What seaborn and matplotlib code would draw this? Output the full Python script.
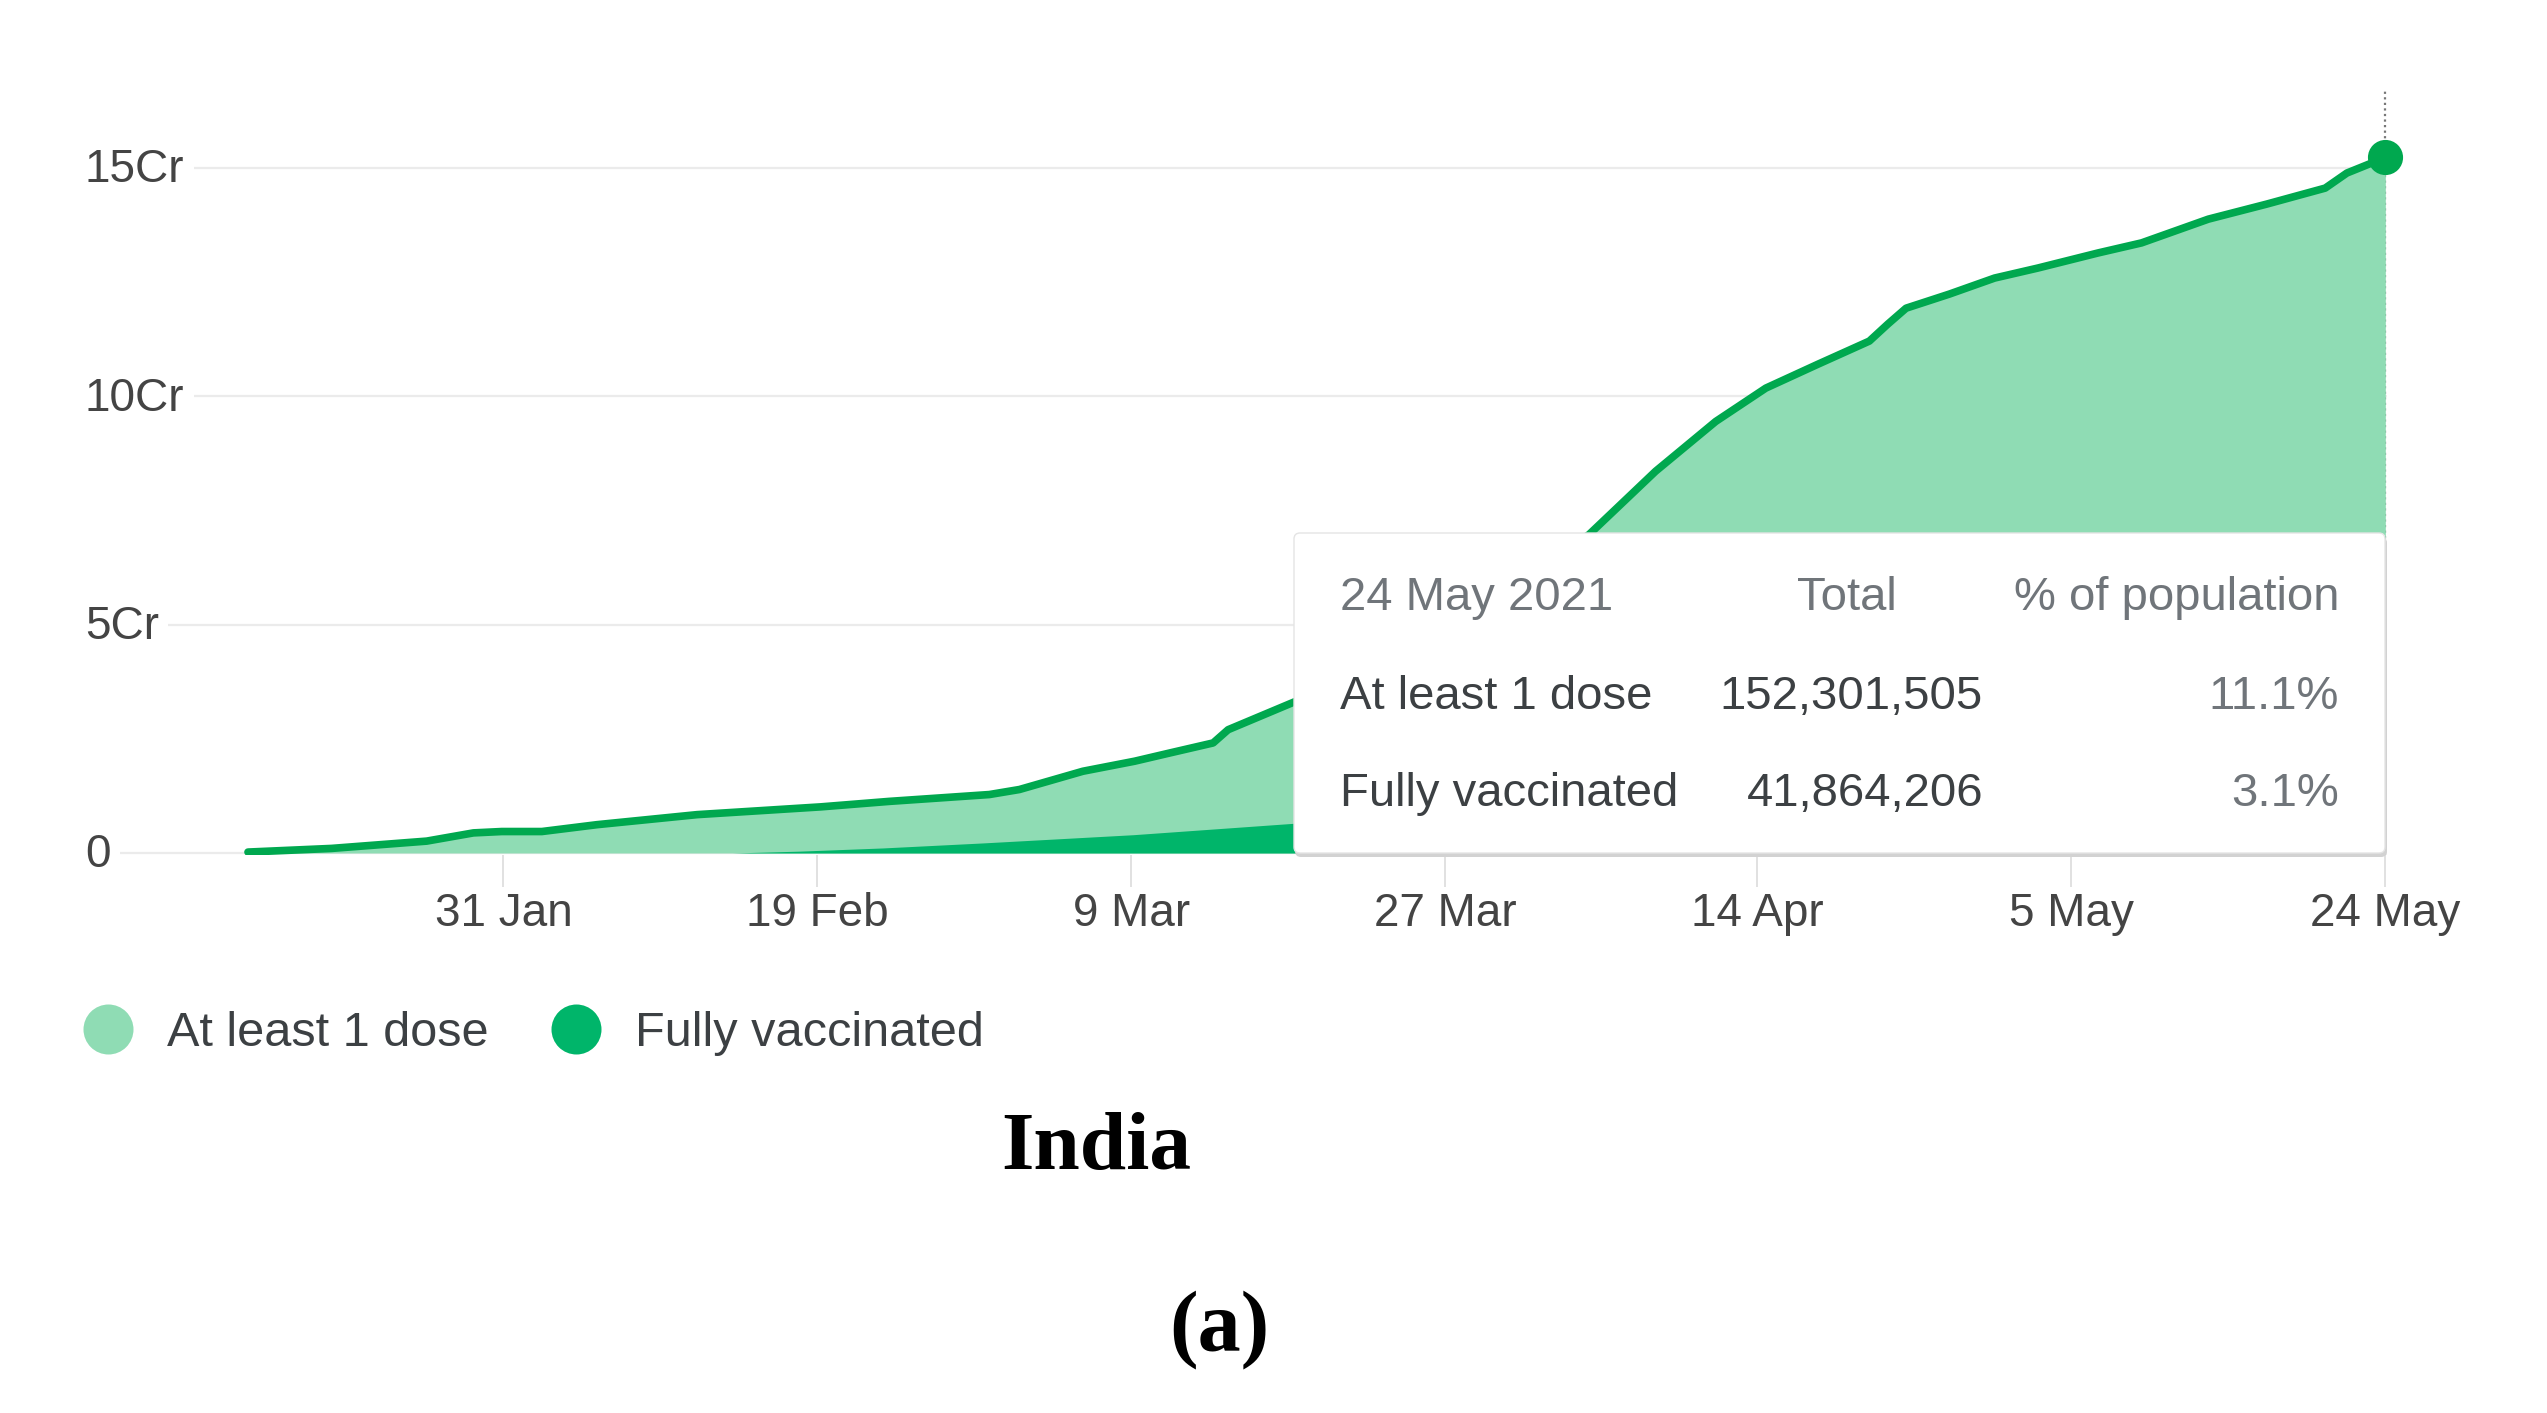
import matplotlib
matplotlib.use("Agg")
import matplotlib.pyplot as plt
from matplotlib.lines import Line2D
from matplotlib.patches import FancyBboxPatch
import seaborn as sns

# days counted from 16 Jan 2021, values in crore (1 Cr = 10 million)
dose1_days = [0, 5, 10.7, 13.5, 15.2, 17.6, 20.9, 26.9, 34.3, 38.4, 44.4, 46.2, 50, 53.1,
              55.2, 57.8, 58.7, 63, 66, 70, 74, 77, 80.3, 82.2, 84.3, 87.9, 90.9, 94,
              97.1, 98.2, 99.3, 101.9, 104.6, 107.2, 110.8, 113.4, 117.4, 120.9, 124.4,
              125.7, 128]
dose1_cr = [0.02, 0.1, 0.26, 0.44, 0.47, 0.47, 0.62, 0.84, 1.01, 1.13, 1.28, 1.39, 1.79,
            2.01, 2.19, 2.41, 2.7, 3.36, 3.85, 4.55, 5.4, 6.2, 6.97, 7.63, 8.36, 9.45,
            10.18, 10.7, 11.21, 11.58, 11.93, 12.24, 12.59, 12.81, 13.14, 13.36, 13.88,
            14.21, 14.56, 14.89, 15.23]

full_days = [29, 33, 38, 44, 53, 63, 70, 80, 90, 100, 110, 120, 128]
full_cr = [0.0, 0.04, 0.11, 0.22, 0.40, 0.66, 0.85, 1.05, 1.5, 2.3, 3.1, 3.75, 4.19]

tick_days = [15.3, 34.1, 52.9, 71.7, 90.4, 109.2, 128]
tick_labels = ["31 Jan", "19 Feb", "9 Mar", "27 Mar", "14 Apr", "5 May", "24 May"]
y_ticks = [0, 5, 10, 15]
y_labels = ["0", "5Cr", "10Cr", "15Cr"]

series_names = ["At least 1 dose", "Fully vaccinated"]
series_colors = ["#8fdcb4", "#00b56a"]
line_color = "#00a84f"

tip_header = ["24 May 2021", "Total", "% of population"]
tip_totals = ["152,301,505", "41,864,206"]
tip_pct = ["11.1%", "3.1%"]

W, H = 2547, 1413

sns.set_style("white")
plt.rcParams['font.family'] = ['Liberation Sans', 'DejaVu Sans']

fig = plt.figure(figsize=(W / 100, H / 100), dpi=100)
ax = fig.add_axes([85 / W, 1 - 855 / H, (2387 - 85) / W, (855 - 89) / H])

ax.fill_between(dose1_days, 0, dose1_cr, color=series_colors[0], lw=0, zorder=1)
ax.fill_between(full_days, 0, full_cr, color=series_colors[1], lw=0, zorder=2)
sns.lineplot(x=dose1_days, y=dose1_cr, color=line_color, lw=5.5, ax=ax, zorder=3,
             solid_capstyle='round', solid_joinstyle='round')
ax.axvline(dose1_days[-1], color='#777777', lw=1.6, ls=(0, (1, 1.5)), zorder=0)
ax.scatter([dose1_days[-1]], [dose1_cr[-1]], s=640, color=line_color, lw=0, zorder=4,
           clip_on=False)

ax.set_xlim(-9.76, 128.1)
ax.set_ylim(-0.044, 16.73)
for s in ax.spines.values():
    s.set_visible(False)

ax.set_axisbelow(True)
ax.set_yticks(y_ticks)
ax.set_yticklabels([])
ax.yaxis.grid(True, color='#ebebeb', lw=1.6)
ax.xaxis.grid(False)
ax.tick_params(axis='y', length=0)
for v, lab in zip(y_ticks, y_labels):
    ax.text(0, v - 0.05, lab, transform=ax.get_yaxis_transform(), ha='left', va='center',
            fontsize=33, color='#444444', zorder=5,
            bbox=dict(boxstyle='square,pad=0.2', fc='white', ec='none'))

ax.set_xticks(tick_days)
ax.set_xticklabels(tick_labels)
ax.tick_params(axis='x', length=23, width=1.2, color='#dcdcdc', labelsize=33,
               labelcolor='#444444', pad=4, direction='out', bottom=True)
ax.set_xlabel('')
ax.set_ylabel('')

# tooltip box, drawn in pixel coordinates on an overlay
ov = fig.add_axes([0, 0, 1, 1], zorder=5)
ov.set_xlim(0, W)
ov.set_ylim(H, 0)
ov.axis('off')
ov.add_patch(FancyBboxPatch((1295, 537), 1092, 320, boxstyle='round,pad=0,rounding_size=6',
                            fc='#d2d2d2', ec='none'))
ov.add_patch(FancyBboxPatch((1294, 533), 1091, 320, boxstyle='round,pad=0,rounding_size=6',
                            fc='white', ec='#e4e4e4', lw=1))
tip_size = 34
ov.text(1340, 598, tip_header[0], ha='left', va='center', fontsize=tip_size, color='#70757a')
ov.text(1897, 598, tip_header[1], ha='right', va='center', fontsize=tip_size, color='#70757a')
ov.text(2339, 598, tip_header[2], ha='right', va='center', fontsize=tip_size, color='#70757a')
for i, yy in enumerate([697, 794]):
    ov.text(1340, yy, series_names[i], ha='left', va='center', fontsize=tip_size, color='#3c4043')
    ov.text(1983, yy, tip_totals[i], ha='right', va='center', fontsize=tip_size, color='#3c4043')
    ov.text(2339, yy, tip_pct[i], ha='right', va='center', fontsize=tip_size, color='#70757a')

handles = [Line2D([], [], marker='o', ls='', markersize=36, markerfacecolor=c,
                  markeredgewidth=0) for c in series_colors]
fig.legend(handles, series_names, loc='center left', bbox_to_anchor=(83.7 / W, 1 - 1034 / H),
           ncol=2, frameon=False, fontsize=35, handlelength=1.0, handletextpad=0.71,
           columnspacing=1.31, borderpad=0, borderaxespad=0, labelcolor='#3c4043')

fig.text(1096 / W, 1 - 1150 / H, 'India', family='Liberation Serif', weight='bold',
         fontsize=60, ha='center', va='center', color='black')
fig.text(1219 / W, 1 - 1330 / H, '(a)', family='Liberation Serif', weight='bold',
         fontsize=62, ha='center', va='center', color='black')

fig.savefig('out.png', dpi=100, facecolor='white')
